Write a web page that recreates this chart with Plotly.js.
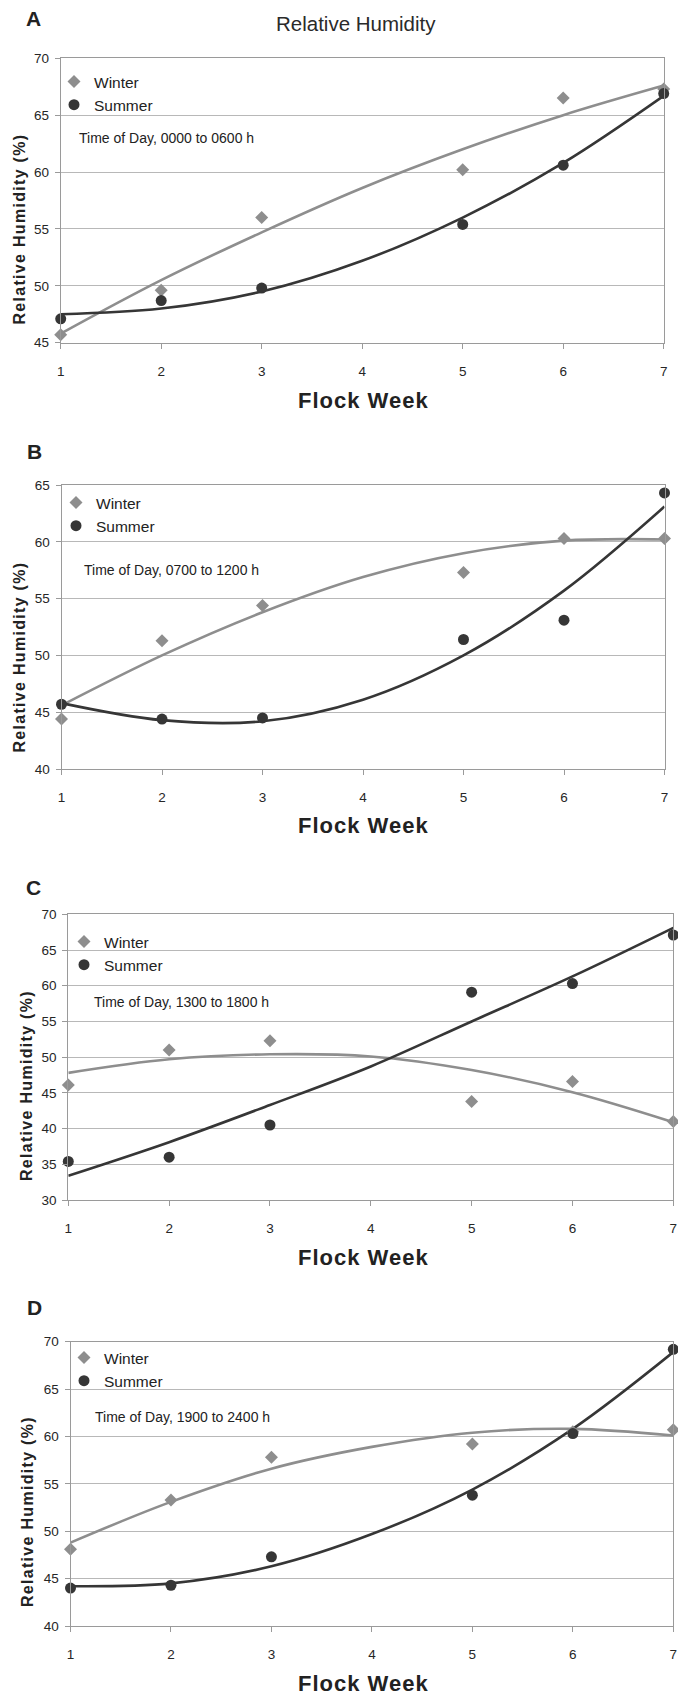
<!DOCTYPE html>
<html>
<head>
<meta charset="utf-8">
<script src="https://cdn.plot.ly/plotly-3.0.1.min.js"></script>
<style>html,body{margin:0;padding:0;background:#fff;}#chart{width:678px;height:1695px;}</style>
</head>
<body>
<div id="chart"></div>
<script>
// ---------- data ----------
var weeks = [1, 2, 3, 5, 6, 7];
var fitWeeks = [1, 2, 3, 4, 5, 6, 7];
var xTickVals = [1, 2, 3, 4, 5, 6, 7];
var seriesNames = ['Winter', 'Summer'];
var panelLetters = ['A', 'B', 'C', 'D'];
var timeLabels = ['Time of Day, 0000 to 0600 h', 'Time of Day, 0700 to 1200 h',
                  'Time of Day, 1300 to 1800 h', 'Time of Day, 1900 to 2400 h'];
var mainTitle = 'Relative Humidity';
var xTitle = 'Flock Week';
var yTitle = 'Relative Humidity (%)';
var yRanges = [[45, 70], [40, 65], [30, 70], [40, 70]];

var winterA = [45.7, 49.6, 56.0, 60.2, 66.5, 67.3];
var summerA = [47.1, 48.7, 49.8, 55.4, 60.6, 66.9];
var winterFitA = [45.8, 50.5, 54.7, 58.6, 62.0, 65.0, 67.6];
var summerFitA = [47.5, 48.0, 49.5, 52.2, 56.0, 60.8, 66.7];

var winterB = [44.4, 51.3, 54.4, 57.3, 60.3, 60.3];
var summerB = [45.7, 44.4, 44.5, 51.4, 53.1, 64.3];
var winterFitB = [45.6, 50.0, 53.8, 56.9, 59.0, 60.1, 60.2];
var summerFitB = [45.8, 44.3, 44.2, 46.1, 50.0, 55.7, 63.1];

var winterC = [46.1, 51.0, 52.3, 43.8, 46.6, 41.0];
var summerC = [35.4, 36.0, 40.5, 59.1, 60.3, 67.1];
var winterFitC = [47.8, 49.7, 50.4, 50.1, 48.2, 45.1, 40.9];
var summerFitC = [33.4, 38.1, 43.3, 48.7, 55.0, 61.3, 68.1];

var winterD = [48.1, 53.3, 57.8, 59.2, 60.5, 60.7];
var summerD = [44.0, 44.3, 47.3, 53.8, 60.3, 69.2];
var winterFitD = [48.8, 53.1, 56.6, 58.9, 60.4, 60.8, 60.1];
var summerFitD = [44.2, 44.5, 46.3, 49.7, 54.4, 60.8, 68.9];

var winterPts = [winterA, winterB, winterC, winterD];
var summerPts = [summerA, summerB, summerC, summerD];
var winterFits = [winterFitA, winterFitB, winterFitC, winterFitD];
var summerFits = [summerFitA, summerFitB, summerFitC, summerFitD];

// ---------- layout geometry (pixels) ----------
var W = 678, H = 1695;
function px(x) { return x / W; }
function py(y) { return 1 - y / H; }
var plotBoxes = [
  {l: 60.7, r: 663.7, t: 58.3, b: 342.7},
  {l: 61.5, r: 664.5, t: 485, b: 769},
  {l: 68.3, r: 673.3, t: 914.3, b: 1200},
  {l: 70.5, r: 673.3, t: 1341.7, b: 1626}
];
var letterPos = [[33, 19], [34.5, 452], [33.5, 887], [34.5, 1307]];
var legendPos = [[54, 65], [56, 486], [64, 925], [64, 1341]];
var timePos = [[77, 138], [82, 570], [92, 1002], [93, 1417]];
var yTitlePos = [[18.5, 229], [18.5, 657], [26, 1086], [27, 1512]];
var xTitlePos = [[363, 400], [363, 825], [363, 1257], [363, 1683]];

var SANS = '"Liberation Sans", Arial, Helvetica, sans-serif';
var WINTER_C = '#8e8e8e';
var SUMMER_C = '#363636';

var traces = [];
var layout = {
  width: W, height: H,
  margin: {l: 0, r: 0, t: 0, b: 0},
  paper_bgcolor: '#ffffff',
  plot_bgcolor: '#ffffff',
  showlegend: true,
  annotations: [],
  font: {family: SANS, color: '#333'}
};

for (var i = 0; i < 4; i++) {
  var sfx = i === 0 ? '' : String(i + 1);
  var xa = 'x' + sfx, ya = 'y' + sfx;
  var leg = 'legend' + sfx;
  var box = plotBoxes[i];

  traces.push({x: fitWeeks, y: winterFits[i], xaxis: xa, yaxis: ya, mode: 'lines',
    line: {color: WINTER_C, width: 2.6, shape: 'spline', smoothing: 1}, showlegend: false, hoverinfo: 'skip'});
  traces.push({x: fitWeeks, y: summerFits[i], xaxis: xa, yaxis: ya, mode: 'lines',
    line: {color: SUMMER_C, width: 2.6, shape: 'spline', smoothing: 1}, showlegend: false, hoverinfo: 'skip'});
  traces.push({x: weeks, y: winterPts[i], xaxis: xa, yaxis: ya, mode: 'markers', name: seriesNames[0],
    legend: leg, cliponaxis: false,
    marker: {symbol: 'diamond', size: 10, color: WINTER_C}});
  traces.push({x: weeks, y: summerPts[i], xaxis: xa, yaxis: ya, mode: 'markers', name: seriesNames[1],
    legend: leg, cliponaxis: false,
    marker: {symbol: 'circle', size: 11, color: SUMMER_C}});

  layout['xaxis' + sfx] = {
    domain: [px(box.l), px(box.r)], anchor: ya, range: [1, 7],
    tickmode: 'array', tickvals: xTickVals,
    showgrid: false, zeroline: false, showline: true, mirror: true, linecolor: '#9a9a9a', linewidth: 1,
    ticks: 'outside', ticklen: 5, tickcolor: '#9a9a9a', ticklabelstandoff: 11,
    tickfont: {family: SANS, size: 13.5, color: '#262626'}, fixedrange: true
  };
  layout['yaxis' + sfx] = {
    domain: [py(box.b), py(box.t)], anchor: xa, range: yRanges[i], dtick: 5, tick0: 0,
    showgrid: true, gridcolor: '#b8b8b8', gridwidth: 1, zeroline: false,
    showline: true, mirror: true, linecolor: '#9a9a9a', linewidth: 1,
    ticks: 'outside', ticklen: 5, tickcolor: '#9a9a9a', ticklabelstandoff: 3,
    tickfont: {family: SANS, size: 13.5, color: '#262626'}, fixedrange: true
  };
  layout[leg] = {
    x: px(legendPos[i][0]), y: py(legendPos[i][1]), xanchor: 'left', yanchor: 'top',
    bgcolor: 'rgba(0,0,0,0)', borderwidth: 0, tracegroupgap: 0,
    font: {family: SANS, size: 15.5, color: '#222'}
  };

  layout.annotations.push({xref: 'paper', yref: 'paper', x: px(letterPos[i][0]), y: py(letterPos[i][1]),
    xanchor: 'center', yanchor: 'middle', showarrow: false, text: panelLetters[i],
    font: {family: SANS, size: 21, color: '#222', weight: 'bold'}});
  layout.annotations.push({xref: 'paper', yref: 'paper', x: px(timePos[i][0]), y: py(timePos[i][1]),
    xanchor: 'left', yanchor: 'middle', showarrow: false, text: timeLabels[i],
    font: {family: SANS, size: 14, color: '#222'}});
  layout.annotations.push({xref: 'paper', yref: 'paper', x: px(yTitlePos[i][0]), y: py(yTitlePos[i][1]),
    xanchor: 'center', yanchor: 'middle', showarrow: false, textangle: -90,
    text: '<span style="letter-spacing:1.3px">' + yTitle + '</span>',
    font: {family: SANS, size: 16, color: '#222', weight: 'bold'}});
  layout.annotations.push({xref: 'paper', yref: 'paper', x: px(xTitlePos[i][0]), y: py(xTitlePos[i][1]),
    xanchor: 'center', yanchor: 'middle', showarrow: false,
    text: '<span style="letter-spacing:1px">' + xTitle + '</span>',
    font: {family: SANS, size: 22, color: '#222', weight: 'bold'}});
}
layout.annotations.push({xref: 'paper', yref: 'paper', x: px(356.5), y: py(23),
  xanchor: 'center', yanchor: 'middle', showarrow: false, text: mainTitle,
  font: {family: SANS, size: 20.5, color: '#2a2a2a'}});

Plotly.newPlot('chart', traces, layout, {staticPlot: true, displayModeBar: false});
</script>
</body>
</html>
